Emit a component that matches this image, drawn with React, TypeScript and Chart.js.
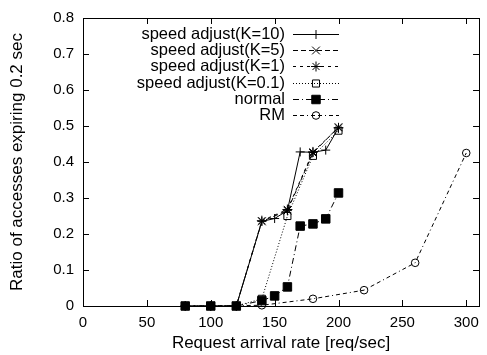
import React, { useEffect, useRef } from "react";
import { Chart, registerables } from "chart.js";

Chart.register(...registerables);

// ---- data ----
const xSpeed10 = [80, 100, 120, 140, 150, 160, 170, 180, 190, 200];
const ySpeed10 = [0, 0, 0, 0.235, 0.243, 0.265, 0.428, 0.427, 0.433, 0.495];
const xSpeed = [80, 100, 120, 140, 160, 180, 200];
const ySpeed5 = [0, 0, 0, 0.235, 0.265, 0.425, 0.497];
const ySpeed1 = [0, 0, 0, 0.237, 0.268, 0.428, 0.495];
const ySpeed01 = [0, 0, 0, 0.02, 0.25, 0.417, 0.487];
const xNormal = [80, 100, 120, 140, 150, 160, 170, 180, 190, 200];
const yNormal = [0, 0, 0, 0.015, 0.028, 0.053, 0.222, 0.228, 0.242, 0.314];
const xRM = [100, 140, 180, 220, 260, 300];
const yRM = [0, 0.002, 0.02, 0.044, 0.12, 0.425];

const seriesLabels = [
  "speed adjust(K=10)",
  "speed adjust(K=5)",
  "speed adjust(K=1)",
  "speed adjust(K=0.1)",
  "normal",
  "RM",
];
const xTickValues = [0, 50, 100, 150, 200, 250, 300];
const yTickValues = [0, 0.1, 0.2, 0.3, 0.4, 0.5, 0.6, 0.7, 0.8];
const xTitle = "Request arrival rate [req/sec]";
const yTitle = "Ratio of accesses expiring 0.2 sec";

const FONT = '"Liberation Sans", Arial, Helvetica, sans-serif';

type Series = {
  label: string;
  xs: number[];
  ys: number[];
  dash: number[];
  style: string;
  radius: number;
  filled: boolean;
};

const series: Series[] = [
  { label: seriesLabels[0], xs: xSpeed10, ys: ySpeed10, dash: [], style: "cross", radius: 4.5, filled: false },
  { label: seriesLabels[1], xs: xSpeed, ys: ySpeed5, dash: [5, 3], style: "crossRot", radius: 5.5, filled: false },
  { label: seriesLabels[2], xs: xSpeed, ys: ySpeed1, dash: [3, 4], style: "star", radius: 5, filled: false },
  { label: seriesLabels[3], xs: xSpeed, ys: ySpeed01, dash: [1, 2], style: "rect", radius: 5, filled: false },
  { label: seriesLabels[4], xs: xNormal, ys: yNormal, dash: [6, 3, 1, 3], style: "rect", radius: 6, filled: true },
  { label: seriesLabels[5], xs: xRM, ys: yRM, dash: [4, 3, 4, 3, 1, 3], style: "circle", radius: 3.8, filled: false },
];

function drawMarker(ctx: CanvasRenderingContext2D, s: Series, x: number, y: number) {
  const r = s.radius;
  ctx.save();
  ctx.setLineDash([]);
  ctx.lineWidth = 1;
  ctx.strokeStyle = "#000";
  ctx.fillStyle = "#000";
  ctx.beginPath();
  if (s.style === "cross" || s.style === "star") {
    ctx.moveTo(x - r, y);
    ctx.lineTo(x + r, y);
    ctx.moveTo(x, y - r);
    ctx.lineTo(x, y + r);
  }
  if (s.style === "crossRot" || s.style === "star") {
    const d = r * Math.SQRT1_2;
    ctx.moveTo(x - d, y - d);
    ctx.lineTo(x + d, y + d);
    ctx.moveTo(x - d, y + d);
    ctx.lineTo(x + d, y - d);
  }
  if (s.style === "rect") {
    const h = r * Math.SQRT1_2;
    ctx.rect(x - h, y - h, 2 * h, 2 * h);
    if (s.filled) ctx.fill();
  }
  if (s.style === "circle") {
    ctx.arc(x, y, r, 0, Math.PI * 2);
  }
  ctx.stroke();
  ctx.restore();
}

const framePlugin = {
  id: "gnuFrame",
  afterDatasetsDraw(chart: any) {
    const { ctx, chartArea } = chart;
    const { left, right, top, bottom } = chartArea;
    const xs = chart.scales.x;
    const ys = chart.scales.y;
    const tl = 6;
    ctx.save();
    ctx.strokeStyle = "#000";
    ctx.lineWidth = 1;
    ctx.setLineDash([]);
    ctx.beginPath();
    xTickValues.forEach((v) => {
      const px = Math.round(xs.getPixelForValue(v)) + 0.5;
      ctx.moveTo(px, bottom);
      ctx.lineTo(px, bottom - tl);
      ctx.moveTo(px, top);
      ctx.lineTo(px, top + tl);
    });
    yTickValues.forEach((v) => {
      const py = Math.round(ys.getPixelForValue(v)) + 0.5;
      ctx.moveTo(left, py);
      ctx.lineTo(left + tl, py);
      ctx.moveTo(right, py);
      ctx.lineTo(right - tl, py);
    });
    ctx.stroke();
    ctx.strokeRect(Math.round(left) + 0.5, Math.round(top) + 0.5, Math.round(right - left), Math.round(bottom - top));
    ctx.restore();
  },
};

const keyPlugin = {
  id: "gnuKey",
  afterDraw(chart: any) {
    const { ctx, chartArea } = chart;
    const textRight = chartArea.left + 202;
    const lineStart = chartArea.left + 210;
    const lineEnd = chartArea.left + 256;
    const firstY = chartArea.top + 16;
    const rowH = 16.2;
    ctx.save();
    ctx.font = `16.5px ${FONT}`;
    ctx.textAlign = "right";
    ctx.textBaseline = "middle";
    ctx.fillStyle = "#000";
    ctx.strokeStyle = "#000";
    ctx.lineWidth = 1;
    series.forEach((s, i) => {
      const y = Math.round(firstY + i * rowH) + 0.5;
      ctx.fillText(s.label, textRight, y);
      ctx.setLineDash(s.dash);
      ctx.beginPath();
      ctx.moveTo(lineStart, y);
      ctx.lineTo(lineEnd, y);
      ctx.stroke();
      drawMarker(ctx, s, (lineStart + lineEnd) / 2, y);
    });
    ctx.restore();
  },
};

export default function App() {
  const ref = useRef<HTMLCanvasElement | null>(null);
  useEffect(() => {
    if (!ref.current) return;
    const chart = new Chart(ref.current, {
      type: "line",
      data: {
        datasets: series.map((s) => ({
          label: s.label,
          data: s.xs.map((x, i) => ({ x, y: s.ys[i] })),
          borderColor: "#000",
          borderWidth: 1,
          borderDash: s.dash,
          pointStyle: s.style as any,
          pointRadius: s.radius,
          pointBorderWidth: 1,
          pointBorderColor: "#000",
          pointBackgroundColor: s.filled ? "#000" : "rgba(0,0,0,0)",
          fill: false,
          tension: 0,
          clip: false as any,
        })),
      },
      options: {
        responsive: false,
        animation: false,
        devicePixelRatio: 1,
        layout: { padding: { top: 17, right: 6, left: 0, bottom: 0 } },
        plugins: { legend: { display: false }, tooltip: { enabled: false } },
        scales: {
          x: {
            type: "linear",
            min: 0,
            max: 310,
            grid: { display: false, drawTicks: false },
            border: { display: false },
            afterBuildTicks: (scale: any) => {
              scale.ticks = xTickValues.map((v) => ({ value: v }));
            },
            afterFit: (scale: any) => {
              scale.height = 49;
            },
            ticks: {
              color: "#000",
              padding: 8,
              maxRotation: 0,
              autoSkip: false,
              font: { family: FONT, size: 15 },
            },
            title: {
              display: true,
              text: xTitle,
              color: "#000",
              font: { family: FONT, size: 17 },
              padding: { top: 0, bottom: 1 },
            },
          },
          y: {
            type: "linear",
            min: 0,
            max: 0.8,
            grid: { display: false, drawTicks: false },
            border: { display: false },
            afterBuildTicks: (scale: any) => {
              scale.ticks = yTickValues.map((v) => ({ value: v }));
            },
            afterFit: (scale: any) => {
              scale.width = 83;
            },
            ticks: {
              color: "#000",
              padding: 9,
              autoSkip: false,
              font: { family: FONT, size: 15 },
              callback: (v: any) => String(Math.round(Number(v) * 10) / 10),
            },
            title: {
              display: true,
              text: yTitle,
              color: "#000",
              font: { family: FONT, size: 17 },
              padding: { top: 7, bottom: 0 },
            },
          },
        },
      },
      plugins: [framePlugin, keyPlugin],
    });
    return () => chart.destroy();
  }, []);
  return (
    <div style={{ position: "absolute", left: 0, top: 0, width: 487, height: 355, background: "#fff" }}>
      <canvas ref={ref} width={487} height={355} style={{ display: "block" }} />
    </div>
  );
}
